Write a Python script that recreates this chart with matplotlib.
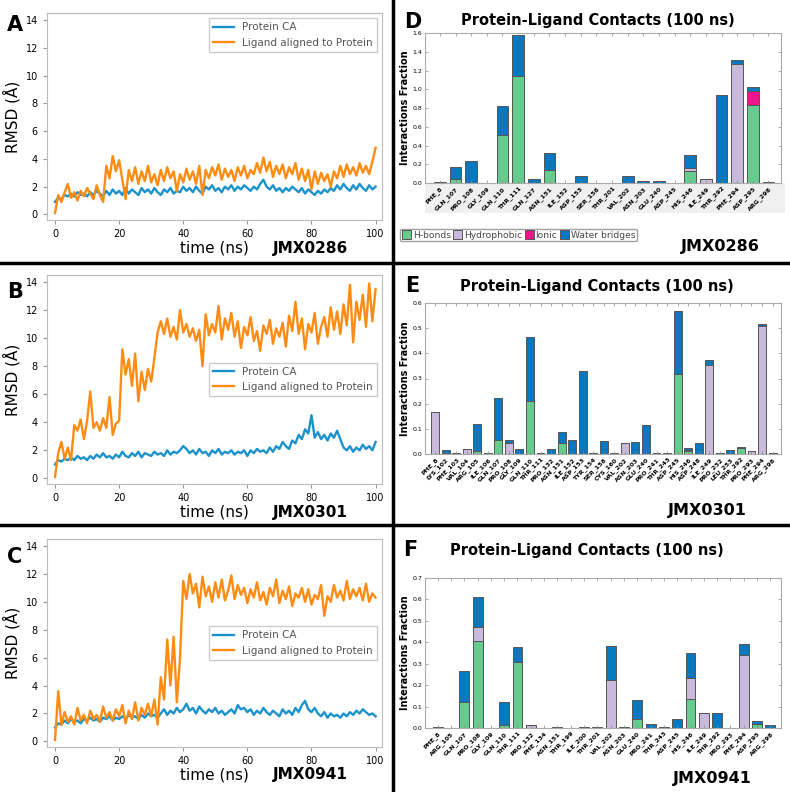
import numpy as np
import matplotlib
matplotlib.use('Agg')
import matplotlib.pyplot as plt
from matplotlib.lines import Line2D
from matplotlib.patches import Rectangle, Patch

# ---------------- RMSD data (~1 ns step) ----------------
a_prot = [0.9,1.2,1.1,1.4,1.3,1.5,1.3,1.6,1.4,1.5,1.3,1.6,1.4,1.7,1.5,1.3,1.7,1.4,1.8,1.5,1.7,1.4,1.9,1.5,1.8,1.6,1.4,1.9,1.6,1.8,
          1.5,1.9,1.6,1.4,1.8,1.6,1.9,1.5,1.7,1.6,2.0,1.7,1.9,1.6,2.0,1.7,1.5,2.0,1.8,2.1,1.7,1.9,1.6,2.0,1.8,2.1,1.7,2.0,1.8,2.1,
          1.9,1.7,2.0,1.8,2.2,2.5,2.0,1.8,2.1,1.7,1.9,1.6,1.9,1.7,2.0,1.8,1.6,1.9,1.5,1.8,1.6,1.4,1.7,1.5,1.8,1.6,1.9,1.7,2.1,1.8,
          2.2,1.9,1.7,2.1,1.8,2.2,1.9,1.7,2.1,1.8,2.0]
a_lig = [0.1,1.4,0.9,1.6,2.2,1.2,1.6,1.0,1.7,1.3,1.9,1.5,1.1,2.1,1.4,0.9,3.5,2.6,4.2,3.1,3.9,2.5,1.1,3.2,2.4,3.4,2.2,3.1,2.4,3.5,
         2.3,2.9,2.1,3.2,2.4,3.4,2.6,3.1,1.7,2.9,2.3,3.3,2.5,3.1,2.2,3.5,1.4,3.2,2.6,3.4,2.8,3.6,2.5,3.3,2.7,3.2,2.4,3.4,2.8,3.5,
         2.6,3.2,2.9,3.7,3.0,4.1,3.1,3.8,2.7,3.5,2.9,3.6,2.6,3.4,2.9,3.7,2.5,3.3,2.4,3.2,1.8,3.1,2.2,3.0,2.4,2.9,2.0,3.1,2.6,3.5,
         2.7,3.6,2.9,3.4,2.8,3.7,3.0,3.5,2.9,3.8,4.8]
b_prot = [1.0,1.3,1.2,1.4,1.3,1.5,1.3,1.6,1.4,1.5,1.3,1.6,1.4,1.7,1.5,1.8,1.5,1.6,1.4,1.7,1.5,1.9,1.6,1.5,1.8,1.6,1.9,1.5,1.8,1.7,
          1.6,1.9,1.7,1.8,1.6,2.0,1.7,1.9,1.8,2.0,2.3,2.1,1.8,2.0,1.7,2.1,1.8,1.9,1.6,2.0,1.8,2.1,1.7,1.9,1.8,2.0,1.7,1.9,1.8,2.0,
          1.6,2.0,1.8,2.1,1.9,2.0,1.8,2.2,1.9,2.3,2.1,2.6,2.3,2.1,2.7,2.5,3.1,2.8,3.5,3.2,4.5,2.9,3.3,2.8,3.1,2.7,3.2,2.9,3.4,2.8,
          2.2,2.0,2.3,1.9,2.2,2.0,2.4,2.1,2.3,2.0,2.6]
b_lig = [0.1,1.8,2.6,1.4,2.2,1.3,3.8,3.4,4.2,2.8,4.1,6.2,3.6,4.0,3.4,4.3,3.6,5.8,3.1,3.9,4.1,9.2,7.4,8.5,6.6,8.9,5.5,7.6,6.3,7.8,
         6.9,8.6,10.4,11.2,10.3,11.4,10.1,10.8,9.9,12.0,10.4,11.0,10.1,10.7,9.8,10.6,8.0,11.7,10.2,11.0,10.4,12.3,9.9,11.4,10.6,11.8,10.1,11.2,9.3,10.8,
         10.2,11.5,9.8,10.5,9.1,10.9,10.3,11.3,9.6,10.7,10.1,11.1,9.4,11.6,10.5,12.6,10.3,11.4,9.2,11.0,10.4,11.8,9.6,10.8,11.5,10.1,12.2,10.6,11.9,10.3,
         12.4,10.9,13.8,9.7,12.6,11.3,13.1,10.8,13.9,11.2,13.5]
c_prot = [1.0,1.3,1.2,1.5,1.3,1.6,1.4,1.5,1.3,1.6,1.5,1.7,1.5,1.6,1.4,1.7,1.6,1.8,1.5,1.7,1.6,1.8,1.6,1.9,1.7,1.8,1.6,1.9,1.7,2.0,
          1.8,1.9,1.7,2.0,2.3,1.9,2.2,2.0,2.4,2.1,2.3,2.7,2.2,2.4,2.0,2.5,2.2,2.0,2.3,2.1,2.4,2.0,2.2,1.9,2.1,2.3,2.0,2.6,2.3,2.4,
          2.1,2.3,1.9,2.2,2.0,2.4,2.1,1.9,2.2,2.0,1.8,2.3,2.0,2.2,1.9,2.4,2.1,2.6,2.9,2.3,2.1,2.4,2.0,1.8,2.1,1.7,2.0,1.8,1.9,1.7,
          2.0,1.8,2.1,1.9,2.2,2.0,2.3,2.1,1.9,2.0,1.8]
c_lig = [0.1,3.6,1.2,2.1,1.4,1.8,1.2,2.4,1.5,1.9,1.3,2.2,1.6,1.9,1.4,2.5,1.7,2.1,1.5,2.3,1.8,2.6,1.3,2.2,1.6,2.8,1.5,2.4,1.9,2.7,
         1.8,3.0,1.2,4.6,3.0,7.3,4.0,7.5,2.8,6.0,11.5,10.2,12.0,10.6,11.3,9.6,11.8,10.4,11.1,10.0,11.4,10.3,11.6,10.1,10.8,11.9,10.2,11.2,10.5,11.0,
         9.9,10.9,10.3,11.4,10.1,10.7,9.8,11.0,10.4,11.6,9.9,10.8,10.2,11.1,9.7,10.6,10.3,11.0,10.0,10.9,9.8,10.5,10.2,11.2,9.0,10.4,10.0,11.2,10.3,10.8,
         10.1,11.5,10.2,10.9,10.4,11.0,10.1,11.3,10.0,10.6,10.3]

# ---------------- Contacts data ----------------
d_res = ['PHE_8','GLN_107','PRO_108','GLY_109','GLN_110','THR_111','GLN_127','ASN_151','ILE_152','ASP_153','SER_158',
         'THR_201','VAL_202','ASN_203','GLU_240','ASP_245','HIS_246','ILE_249','THR_292','PHE_294','ASP_295','ARG_298']
d_hb    = [0,0.04,0,0,0.51,1.14,0,0.14,0,0,0,0,0,0,0,0,0.13,0,0,0,0.83,0]
d_hyd   = [0,0,0,0,0,0,0,0,0,0,0,0,0,0,0,0,0.03,0.04,0,1.27,0,0]
d_ion   = [0,0,0,0,0,0,0,0,0,0,0,0,0,0,0,0,0,0,0,0,0.15,0]
d_wat   = [0.01,0.13,0.23,0,0.31,0.44,0.04,0.18,0,0.07,0.003,0,0.08,0.02,0.02,0,0.14,0,0.94,0.04,0.04,0.01]

e_res = ['PHE_8','LYS_102','PHE_103','VAL_104','ARG_105','ILE_106','GLN_107','PRO_108','GLY_109','GLN_110','THR_111',
         'PRO_132','ASN_151','ILE_152','ASP_153','TYR_154','SER_158','CYS_160','VAL_202','ASN_203','GLU_240','PRO_241',
         'THR_243','ASP_245','HIS_246','ASP_248','ILE_249','PRO_252','LEU_253','THR_292','PRO_293','PHE_294','ARG_298']
e_hb  = [0,0.005,0,0,0.013,0,0.057,0,0,0.21,0,0,0.045,0,0,0,0,0,0,0,0,0,0,0.317,0.01,0,0,0,0,0.022,0,0,0]
e_hyd = [0.165,0,0,0.02,0,0,0,0.045,0,0,0,0,0,0,0,0,0,0,0.043,0,0,0,0,0,0.004,0,0.353,0,0,0,0.012,0.51,0]
e_ion = [0]*33
e_wat = [0,0.012,0.002,0,0.107,0.003,0.165,0.012,0.018,0.255,0.005,0.02,0.042,0.055,0.33,0.002,0.05,0.002,0,0.047,0.117,0.002,
         0.002,0.25,0.011,0.044,0.022,0.002,0.016,0.007,0,0.008,0.002]

f_res = ['PHE_8','ARG_105','GLN_107','PRO_108','GLY_109','GLN_110','THR_111','PRO_132','PHE_134','ASN_151','THR_199',
         'ILE_200','THR_201','VAL_202','ASN_203','GLU_240','PRO_241','THR_243','ASP_245','HIS_246','ILE_249','THR_292',
         'PRO_293','PHE_294','ASP_295','ARG_298']
f_hb  = [0,0,0.12,0.405,0,0.015,0.307,0,0,0,0,0,0,0,0,0.043,0,0,0,0.137,0,0,0,0,0.017,0]
f_hyd = [0,0,0,0.065,0,0,0,0.012,0,0,0,0,0,0.222,0,0,0,0,0,0.095,0.068,0,0,0.343,0,0]
f_ion = [0]*26
f_wat = [0.003,0.002,0.145,0.14,0.002,0.105,0.07,0.003,0.002,0.004,0.002,0.005,0.006,0.163,0.004,0.09,0.02,0.007,0.04,0.12,
         0,0.068,0.002,0.05,0.015,0.012]

W, H = 790, 792
fig = plt.figure(figsize=(W / 100, H / 100), dpi=100)
fig.patch.set_facecolor('white')


def px_axes(l, t, r, b):
    return fig.add_axes([l / W, 1 - b / H, (r - l) / W, (b - t) / H])


def ftext(x, y, s, **kw):
    fig.text(x / W, 1 - y / H, s, **kw)


BLUE = '#1b92cc'
ORANGE = '#ff8c12'

rmsd_panels = [
    ('A', (47, 13, 382, 220), 25, a_prot, a_lig, 'upper right', 'JMX0286'),
    ('B', (47, 275, 382, 484), 292, b_prot, b_lig, 'center right', 'JMX0301'),
    ('C', (47, 539, 382, 747), 557, c_prot, c_lig, 'center right', 'JMX0941'),
]

for letter, box, ly, prot, lig, legloc, name in rmsd_panels:
    ax = px_axes(*box)
    t_p = np.linspace(0, 100, len(prot))
    t_l = np.linspace(0, 100, len(lig))
    ax.plot(t_p, prot, color=BLUE, lw=1.7, label='Protein CA', zorder=2)
    ax.plot(t_l, lig, color=ORANGE, lw=1.7, label='Ligand aligned to Protein', zorder=3)
    ax.set_xlim(-2.5, 102)
    ax.set_ylim(-0.4, 14.5)
    ax.set_xticks(range(0, 101, 20))
    ax.set_yticks(range(0, 15, 2))
    ax.tick_params(labelsize=7, length=3, color='#999999')
    for s in ax.spines.values():
        s.set_color('#bbbbbb')
    ax.set_ylabel('RMSD (Å)', fontsize=11)
    ax.yaxis.set_label_coords(-0.08, 0.5)
    ax.set_xlabel('time (ns)', fontsize=11)
    ax.xaxis.set_label_coords(0.5, -0.1)
    leg = ax.legend(loc=legloc, fontsize=7.5, framealpha=1, edgecolor='#cccccc', fancybox=False)
    for tx in leg.get_texts():
        tx.set_color('#555555')
    ftext(15, ly, letter, fontsize=15, fontweight='bold', ha='center', va='center')
    ftext(310, box[3] + 28, name, fontsize=11, fontweight='bold', ha='center', va='center')

# light gray band below the D bar chart
fig.patches.append(Rectangle((425 / W, 1 - 213 / H), 360 / W, 30 / H, transform=fig.transFigure,
                             facecolor='#f0f0f0', edgecolor='none', zorder=-5))

C_HB = '#66cc8e'
C_HYD = '#c9b9dd'
C_ION = '#f0148c'
C_WAT = '#0a78be'

bar_panels = [
    ('D', (425, 33, 781, 183), (413, 22), 598, 20, d_res, d_hb, d_hyd, d_ion, d_wat, 1.6, 0.2, 'JMX0286', (720, 246)),
    ('E', (425, 303, 781, 454), (412, 286), 597, 286, e_res, e_hb, e_hyd, e_ion, e_wat, 0.6, 0.1, 'JMX0301', (707, 510)),
    ('F', (425, 578, 781, 728), (410, 550), 587, 550, f_res, f_hb, f_hyd, f_ion, f_wat, 0.7, 0.1, 'JMX0941', (712, 778)),
]

for letter, box, lpos, tx_, ty_, res, hb, hyd, ion, wat, ymax, ystep, name, npos in bar_panels:
    ax = px_axes(*box)
    x = np.arange(len(res))
    hb = np.array(hb)
    hyd = np.array(hyd)
    ion = np.array(ion)
    wat = np.array(wat)
    kw = dict(width=0.75, edgecolor='#555555', linewidth=0.7)
    ax.bar(x, hb, color=C_HB, **kw)
    ax.bar(x, hyd, bottom=hb, color=C_HYD, **kw)
    ax.bar(x, ion, bottom=hb + hyd, color=C_ION, **kw)
    ax.bar(x, wat, bottom=hb + hyd + ion, color=C_WAT, **kw)
    ax.set_xlim(-0.95, len(res) - 0.2)
    ax.set_ylim(0, ymax)
    ticks = np.arange(0, ymax + 1e-9, ystep)
    ax.set_yticks(ticks)
    ax.set_yticklabels(['%.1f' % v for v in ticks], fontsize=4.5)
    ax.set_xticks(x)
    ax.set_xticklabels(res, rotation=45, ha='right', fontsize=4.5, fontweight='bold', rotation_mode='anchor')
    ax.tick_params(direction='in', top=True, right=True, length=2.5, width=0.5, color='#888888', pad=2)
    for s in ax.spines.values():
        s.set_color('#aaaaaa')
    ax.set_ylabel('Interactions Fraction', fontsize=7, fontweight='bold', labelpad=2)
    ftext(tx_, ty_, 'Protein-Ligand Contacts (100 ns)', fontsize=10.5, fontweight='bold', ha='center', va='center')
    ftext(lpos[0], lpos[1], letter, fontsize=15, fontweight='bold', ha='center', va='center')
    ftext(npos[0], npos[1], name, fontsize=11.5, fontweight='bold', ha='center', va='center')

handles = [Patch(facecolor=c, edgecolor='#555555', linewidth=0.7) for c in (C_HB, C_HYD, C_ION, C_WAT)]
fig.legend(handles, ['H-bonds', 'Hydrophobic', 'Ionic', 'Water bridges'], loc='center left',
           bbox_to_anchor=(400 / W, 1 - 235 / H), ncol=4, fontsize=6.6, handlelength=1.0, handleheight=1.0,
           handletextpad=0.2, columnspacing=0.25, borderpad=0.2, borderaxespad=0, frameon=True,
           edgecolor='#888888', fancybox=True, labelcolor='#444444')

# black dividers
fig.add_artist(Line2D([393 / W, 393 / W], [0, 1], transform=fig.transFigure, color='black', lw=2.5))
for yy in (263, 525):
    fig.add_artist(Line2D([0, 1], [1 - yy / H, 1 - yy / H], transform=fig.transFigure, color='black', lw=2.5))

fig.savefig('out.png', dpi=100)
